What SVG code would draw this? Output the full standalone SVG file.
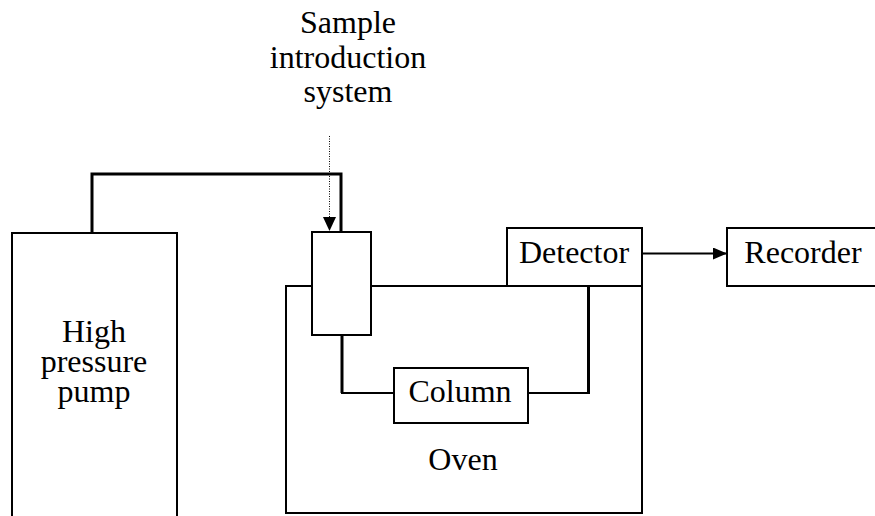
<svg xmlns="http://www.w3.org/2000/svg" width="875" height="516" viewBox="0 0 875 516">
  <style>
    .box { fill: #fff; stroke: #000; stroke-width: 2; }
    .open { fill: none; stroke: #000; stroke-width: 2; }
    .pipe { fill: none; stroke: #000; stroke-width: 3; }
    .thin { fill: none; stroke: #000; stroke-width: 2; }
    .dots { fill: none; stroke: #000; stroke-width: 1; stroke-dasharray: 1 1.5; }
    .lbl { font-family: "Liberation Serif", "Times New Roman", "DejaVu Serif", serif; font-size: 32px; fill: #000; text-anchor: middle; }
  </style>
  <defs>
    <marker id="tri" viewBox="0 0 14 12" refX="14" refY="6" markerWidth="14" markerHeight="12" markerUnits="userSpaceOnUse" orient="auto">
      <path d="M0,0 L14,6 L0,12 Z" fill="#000"/>
    </marker>
  </defs>

  <!-- oven enclosure (top edge interrupted by the injector) -->
  <g id="oven">
    <path class="open" d="M312,286 L286,286 L286,513 L642,513 L642,286"/>
    <path class="open" d="M371,286 L507,286"/>
    <text class="lbl" x="463" y="470">Oven</text>
  </g>

  <g id="pump">
    <path class="open" d="M12,516 L12,233 L177,233 L177,516"/>
    <text class="lbl" x="94" y="342">High</text>
    <text class="lbl" x="94" y="372">pressure</text>
    <text class="lbl" x="94" y="402">pump</text>
  </g>

  <g id="injector">
    <rect class="box" x="312" y="232" width="59" height="103"/>
  </g>

  <g id="detector">
    <rect class="box" x="507" y="228" width="135" height="58"/>
    <text class="lbl" x="574" y="263">Detector</text>
  </g>

  <g id="column">
    <rect class="box" x="394" y="368" width="134" height="55"/>
    <text class="lbl" x="460" y="402">Column</text>
  </g>

  <g id="recorder">
    <path class="open" d="M880,228 L727,228 L727,286 L880,286"/>
    <text class="lbl" x="803" y="263">Recorder</text>
  </g>

  <g id="sample-label">
    <text class="lbl" x="348" y="33">Sample</text>
    <text class="lbl" x="348" y="67.5">introduction</text>
    <text class="lbl" x="348" y="102">system</text>
  </g>

  <g id="connectors">
    <!-- pump outlet to injector -->
    <path class="pipe" d="M92,232 L92,174 L341,174 L341,232"/>
    <!-- injector to column -->
    <path class="pipe" d="M342,335 L342,393"/>
    <path class="thin" d="M341,393 L394,393"/>
    <!-- column to detector -->
    <path class="thin" d="M528,393 L589,393"/>
    <path class="pipe" d="M588.5,394 L588.5,286"/>
    <!-- sample introduction pointer -->
    <path class="dots" d="M329.5,136 L329.5,218"/>
    <path d="M323,217 L336,217 L329.5,231 Z" fill="#000"/>
    <!-- detector signal to recorder -->
    <path class="thin" d="M642,253.5 L727,253.5" marker-end="url(#tri)"/>
  </g>
</svg>
